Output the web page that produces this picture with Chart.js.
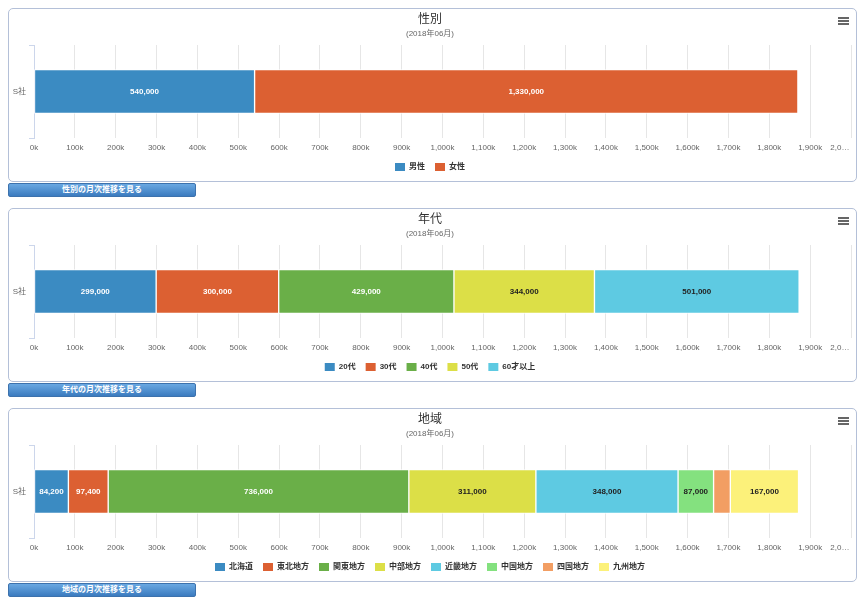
<!DOCTYPE html>
<html lang="ja">
<head>
<meta charset="utf-8">
<script src="https://cdn.jsdelivr.net/npm/chart.js@4.4.1/dist/chart.umd.min.js"></script>
<style>
  body { margin: 0; background: #fff; font-family: "Liberation Sans", "Noto Sans CJK JP", sans-serif; }
  .panel { position: absolute; left: 8px; width: 847px; height: 172px; border: 1px solid #b4c0d8; border-radius: 5px; background: #fff; }
  .panel canvas { position: absolute; left: 0; top: 0; }
  .menu { position: absolute; right: 7px; top: 8px; width: 11px; }
  .menu span { display: block; height: 2px; background: #666; margin-bottom: 1px; }
  .btn { position: absolute; left: 8px; width: 186px; height: 12px; border: 1px solid #3d72ad; border-radius: 2px;
         background: linear-gradient(#6aa8e2, #3b7bbf); color: #fff; font-size: 8px; font-weight: bold;
         line-height: 12px; text-align: center; }
</style>
</head>
<body>
<div class="panel" style="top:8px"><canvas id="gender" width="847" height="172"></canvas><div class="menu"><span></span><span></span><span></span></div></div>
<div class="btn" style="top:183px">性別の月次推移を見る</div>
<div class="panel" style="top:208px"><canvas id="age" width="847" height="172"></canvas><div class="menu"><span></span><span></span><span></span></div></div>
<div class="btn" style="top:383px">年代の月次推移を見る</div>
<div class="panel" style="top:408px"><canvas id="region" width="847" height="172"></canvas><div class="menu"><span></span><span></span><span></span></div></div>
<div class="btn" style="top:583px">地域の月次推移を見る</div>

<script>
// data
const companies = ['S社'];
const period = '(2018年06月)';

const genderLabels = ['男性', '女性'];
const genderValues = [540000, 1330000];

const ageLabels = ['20代', '30代', '40代', '50代', '60才以上'];
const ageValues = [299000, 300000, 429000, 344000, 501000];

const regionLabels = ['北海道', '東北地方', '関東地方', '中部地方', '近畿地方', '中国地方', '四国地方', '九州地方'];
const regionValues = [84200, 97400, 736000, 311000, 348000, 87000, 41000, 167000];

const axisMax = 2000000;
const axisStep = 100000;

const palette = ['#3b8bc2', '#dc6032', '#6aaf48', '#dcdf47', '#5ecae2', '#84e17f', '#f29e63', '#fcf17a'];
const FONT = '"Liberation Sans", "Noto Sans CJK JP", sans-serif';

Chart.defaults.font.family = FONT;

// white text on dark bars, black on light ones
function contrast(hex) {
    const n = parseInt(hex.slice(1), 16);
    const sum = (n >> 16) + ((n >> 8) & 255) + (n & 255);
    return sum > 459 ? '#222' : '#fff';
}

const valueLabels = {
    id: 'valueLabels',
    afterDatasetsDraw(chart) {
        const ctx = chart.ctx;
        ctx.save();
        ctx.font = 'bold 8px ' + FONT;
        ctx.textAlign = 'center';
        ctx.textBaseline = 'middle';
        chart.data.datasets.forEach((ds, i) => {
            const bar = chart.getDatasetMeta(i).data[0];
            const text = ds.data[0].toLocaleString('en-US');
            const w = Math.abs(bar.x - bar.base);
            if (ctx.measureText(text).width + 6 > w) return; // no room, skip like the original
            ctx.fillStyle = contrast(ds.backgroundColor);
            ctx.fillText(text, (bar.x + bar.base) / 2, bar.y + 0.5);
        });
        ctx.restore();
    }
};

function makeChart(id, title, labels, values) {
    const ctx = document.getElementById(id).getContext('2d');
    return new Chart(ctx, {
        type: 'bar',
        data: {
            labels: companies,
            datasets: labels.map((name, i) => ({
                label: name,
                data: [values[i]],
                backgroundColor: palette[i],
                borderColor: '#fff',
                borderWidth: 1,
                borderSkipped: false,
                barThickness: 44
            }))
        },
        plugins: [valueLabels],
        options: {
            indexAxis: 'y',
            responsive: false,
            animation: false,
            layout: { padding: { left: 0, right: 5, top: 0, bottom: 0 } },
            plugins: {
                title: {
                    display: true, text: title, color: '#333',
                    font: { size: 12, weight: 'normal' },
                    padding: { top: 3, bottom: 0 }
                },
                subtitle: {
                    display: true, text: period, color: '#666',
                    font: { size: 8 },
                    padding: { top: 3, bottom: 6 }
                },
                legend: {
                    position: 'bottom',
                    labels: {
                        boxWidth: 10, boxHeight: 8, padding: 10, color: '#333',
                        font: { size: 8, weight: 'bold' },
                        generateLabels(chart) {
                            return Chart.defaults.plugins.legend.labels.generateLabels(chart).map(item => {
                                item.strokeStyle = item.fillStyle;
                                item.lineWidth = 0;
                                return item;
                            });
                        }
                    }
                },
                tooltip: { enabled: false }
            },
            scales: {
                x: {
                    stacked: true,
                    min: 0, max: axisMax,
                    grid: { color: '#e6e6e6', drawTicks: false },
                    border: { display: false },
                    ticks: {
                        stepSize: axisStep, autoSkip: false, maxRotation: 0, padding: 5,
                        color: '#666', font: { size: 8 },
                        callback: v => v === axisMax ? '2,0…\u00a0\u00a0\u00a0\u00a0\u00a0\u00a0\u00a0\u00a0\u00a0\u00a0'
                                                    : (v / 1000).toLocaleString('en-US') + 'k'
                    },
                    afterFit: s => { s.paddingLeft = 0; s.paddingRight = 0; s.height = 15; }
                },
                y: {
                    stacked: true,
                    grid: { drawOnChartArea: false, color: '#ccd6eb', tickLength: 5 },
                    border: { color: '#ccd6eb' },
                    ticks: { color: '#666', font: { size: 8 }, padding: 3 },
                    afterFit: s => { s.width = 25; s.paddingTop = 0; s.paddingBottom = 0; }
                }
            }
        }
    });
}

makeChart('gender', '性別', genderLabels, genderValues);
makeChart('age', '年代', ageLabels, ageValues);
makeChart('region', '地域', regionLabels, regionValues);
</script>
</body>
</html>
